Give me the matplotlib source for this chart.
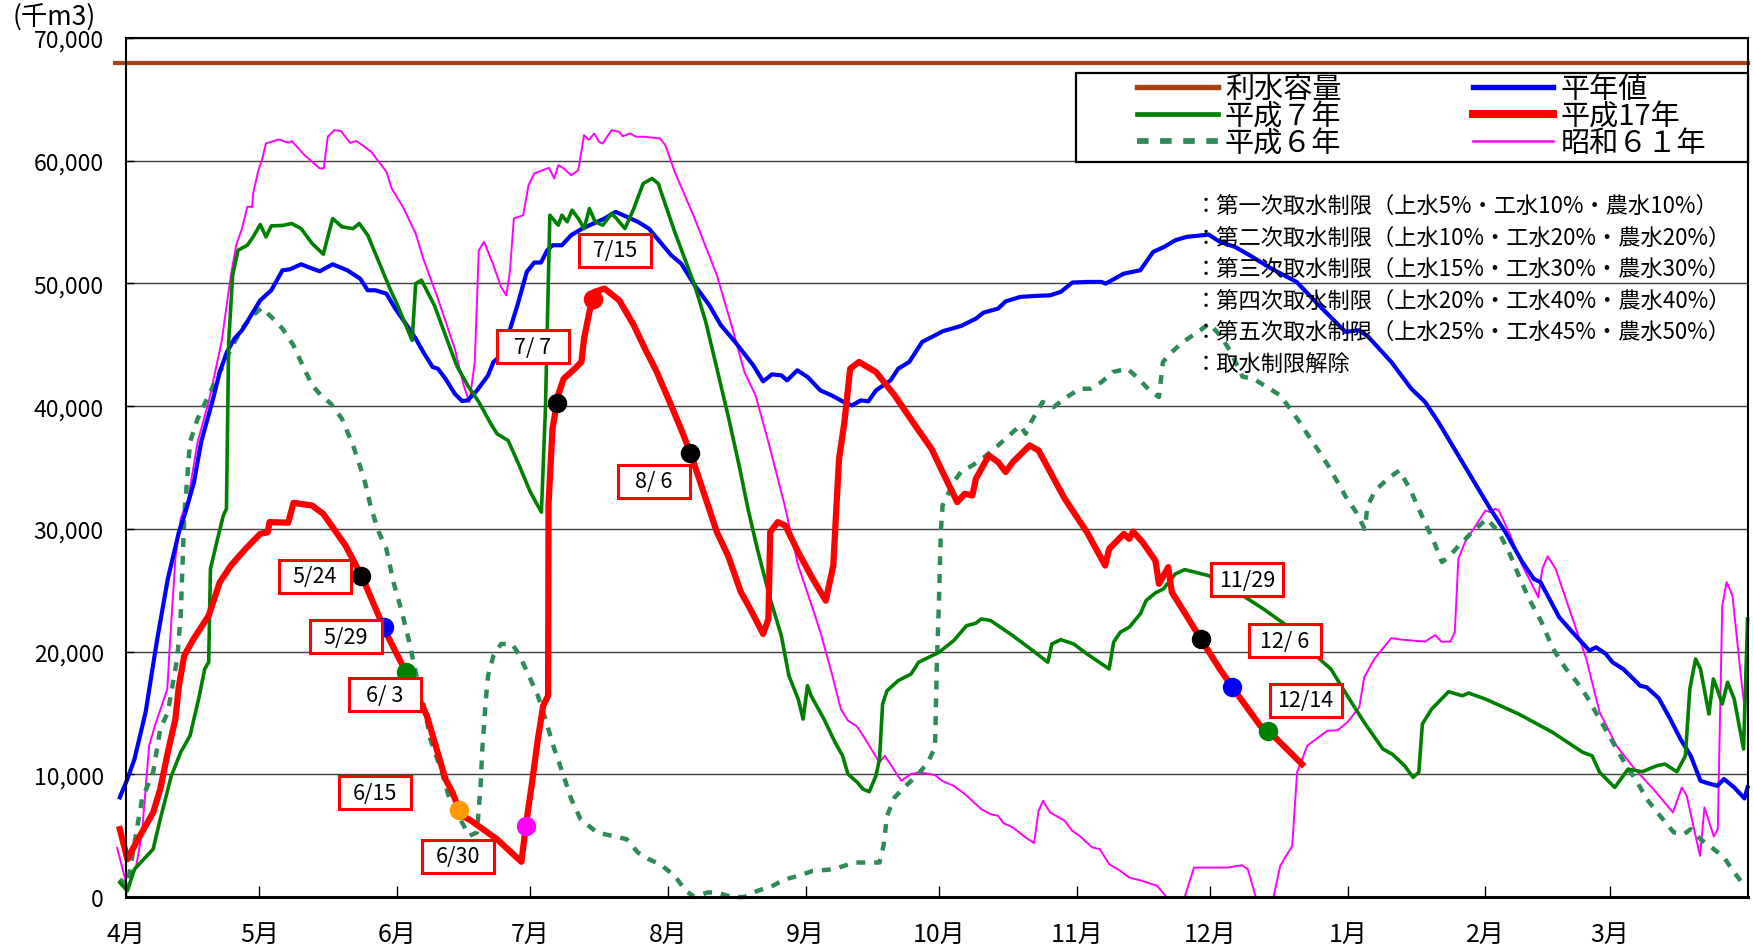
import numpy as np
import matplotlib
matplotlib.use('Agg')
import matplotlib.pyplot as plt
from matplotlib.patches import Rectangle
from matplotlib.transforms import ScaledTranslation

plt.rcParams['font.family'] = ['Noto Sans CJK JP', 'DejaVu Sans']

# ---- data (x = days since 4/1, y = 千m3) ----
month_labels = ['4月', '5月', '6月', '7月', '8月', '9月', '10月', '11月', '12月', '1月', '2月', '3月']
month_start = [0, 30, 61, 91, 122, 153, 183, 214, 244, 275, 306, 334]

capacity = 68000
capacity_span = [-2.5, 365]

heinen = [(-1.4, 8120), (0.3, 9610), (1.9, 11240), (4.4, 15050), (6.9, 20760), (9.4, 25920), (11.9, 29730),
          (13.6, 31630), (15.3, 33810), (16.9, 37070), (19.4, 40340), (21.1, 42780), (22.7, 44410), (24.4, 45500),
          (26.1, 46180), (27.7, 47130), (30.2, 48620), (32.7, 49440), (35.2, 51070), (36.9, 51150), (39.4, 51560),
          (41.5, 51260), (43.6, 50990), (46.5, 51560), (49.8, 51070), (52.7, 50390), (54.4, 49440), (56.1, 49440),
          (58.6, 49170), (60.6, 47950), (62.7, 46860), (65.2, 45500), (66.9, 44410), (69.0, 43190), (70.2, 43050),
          (71.9, 42240), (74.0, 41010), (75.6, 40420), (76.9, 40470), (79.0, 41280), (81.5, 42510), (82.7, 43600),
          (84.4, 44140), (86.0, 45770), (88.1, 48220), (90.2, 50940), (91.9, 51700), (93.4, 51700), (94.8, 52700),
          (96.0, 53110), (98.1, 53110), (100.2, 53930), (102.7, 54470), (105.2, 54880), (107.7, 55290),
          (110.2, 55830), (112.7, 55430), (115.2, 55020), (117.7, 54470), (120.2, 53390), (122.7, 52300),
          (125.0, 51600), (128.0, 49850), (131.3, 48220), (133.9, 46590), (137.1, 45230), (141.2, 43320),
          (143.4, 42020), (145.4, 42590), (147.5, 42510), (148.8, 42100), (151.1, 42920), (153.4, 42380),
          (156.3, 41280), (158.8, 40880), (161.3, 40390), (163.4, 40060), (165.4, 40470), (167.1, 40390),
          (168.8, 41280), (172.1, 42100), (173.8, 43050), (176.3, 43600), (179.2, 45230), (182.1, 45770),
          (183.8, 46100), (188.0, 46540), (191.3, 47130), (193.0, 47620), (196.3, 47950), (198.0, 48540),
          (201.3, 48900), (204.6, 48980), (208.0, 49030), (210.4, 49310), (213.0, 50070), (216.3, 50120),
          (219.6, 50120), (220.5, 49980), (224.6, 50800), (228.3, 51070), (231.2, 52570), (233.7, 52980),
          (236.2, 53520), (238.7, 53790), (243.7, 53980), (246.2, 53390), (249.6, 52980), (252.9, 52300),
          (257.8, 51210), (263.5, 50120), (268.5, 48220), (274.5, 46050), (277.5, 46180), (279.5, 45700),
          (284.8, 43600), (289.3, 41420), (292.4, 40340), (295.4, 38700), (299.9, 35980), (303.7, 33670),
          (307.1, 31630), (310.5, 29730), (314.3, 27290), (316.9, 25920), (318.4, 25650), (322.6, 22800),
          (325.6, 21570), (329.4, 20080), (330.9, 20350), (333.1, 19810), (334.6, 19130), (337.0, 18580),
          (339.3, 17770), (340.8, 17220), (342.3, 17090), (345.0, 16200), (347.6, 14500), (349.9, 12870),
          (352.2, 11510), (354.4, 9470), (356.0, 9280), (358.2, 9060), (359.7, 9610), (362.0, 8930),
          (364.3, 8030), (365.0, 8930)]

h7 = [(-1.4, 1180), (0.3, 500), (1.9, 2270), (6.1, 3900), (7.7, 6350), (10.2, 9880), (12.3, 11790), (14.4, 13140),
      (16.5, 16400), (17.7, 18580), (18.6, 19130), (19.0, 26740), (20.6, 29190), (21.9, 31090), (22.6, 31630),
      (23.1, 45230), (24.0, 50660), (25.2, 52700), (27.3, 53110), (28.6, 53790), (30.2, 54800), (31.5, 53790),
      (32.7, 54690), (35.2, 54720), (37.3, 54880), (39.4, 54470), (41.9, 53250), (44.4, 52380), (46.5, 55290),
      (48.6, 54610), (51.1, 54470), (52.5, 54880), (54.4, 53930), (56.9, 51760), (59.4, 49580), (61.1, 48220),
      (64.4, 45360), (65.2, 49990), (66.5, 50260), (69.4, 48220), (71.9, 45770), (74.4, 43320), (76.9, 41690),
      (79.4, 40340), (81.9, 38700), (83.5, 37750), (86.0, 37200), (88.5, 35170), (91.0, 33000), (93.5, 31360),
      (94.4, 39790), (95.4, 55560), (97.3, 54740), (98.1, 55560), (99.3, 55020), (100.4, 55970), (101.8, 55290),
      (103.1, 54470), (104.3, 56100), (105.6, 55020), (107.3, 54740), (109.3, 55700), (110.4, 55290),
      (112.3, 54470), (114.3, 56100), (116.4, 58140), (118.4, 58550), (119.8, 58140), (123.5, 54200),
      (128.0, 49850), (130.5, 46860), (133.0, 43050), (135.5, 39250), (138.0, 35170), (140.0, 31630),
      (142.1, 28370), (145.0, 24290), (147.5, 21300), (149.2, 18040), (151.3, 16130), (152.4, 14500),
      (153.4, 17220), (154.2, 16400), (157.1, 14500), (159.6, 12600), (161.3, 11510), (162.5, 10020),
      (164.6, 9340), (165.9, 8790), (167.3, 8580), (168.8, 9880), (169.6, 11240), (170.3, 15730), (171.3, 16810),
      (173.8, 17630), (176.7, 18170), (178.4, 19130), (183.0, 19940), (186.3, 20890), (189.2, 22110),
      (191.3, 22310), (192.5, 22660), (194.6, 22530), (199.6, 21300), (204.6, 19940), (207.5, 19130),
      (208.4, 20620), (210.4, 20970), (213.3, 20620), (216.3, 19810), (221.3, 18580), (222.3, 20760),
      (223.8, 21580), (225.8, 21980), (228.3, 23070), (229.6, 24150), (231.7, 24780), (233.5, 25110),
      (236.2, 26330), (238.3, 26680), (243.7, 26190), (247.9, 25380), (256.0, 23480), (261.3, 22110),
      (266.2, 20200), (271.2, 18580), (274.9, 16400), (278.7, 14230), (282.9, 12060), (285.0, 11650),
      (287.8, 10700), (289.7, 9750), (291.0, 10160), (291.8, 14100), (293.9, 15320), (297.7, 16730),
      (300.8, 16400), (302.2, 16620), (306.0, 16130), (313.5, 14910), (321.1, 13420), (327.9, 11790),
      (330.0, 11510), (331.7, 10160), (335.1, 8930), (338.1, 10420), (341.3, 10210), (344.6, 10700),
      (346.4, 10830), (349.1, 10210), (351.0, 11510), (352.0, 16950), (353.3, 19400), (354.4, 18580),
      (356.3, 14910), (357.3, 17770), (358.3, 16810), (359.3, 15730), (360.5, 17500), (362.0, 16130),
      (364.1, 12060), (365.0, 22660)]

h17 = [(-1.4, 5530), (0.3, 3080), (2.7, 4710), (6.1, 6890), (7.7, 8790), (9.4, 11790), (11.1, 14500),
       (11.9, 17220), (13.1, 19670), (15.2, 21030), (18.6, 22930), (21.1, 25650), (23.6, 27010), (26.9, 28370),
       (30.2, 29590), (31.9, 29730), (32.3, 30550), (36.5, 30500), (37.7, 32120), (41.9, 31900), (44.4, 31220),
       (49.4, 28640), (53.1, 26110), (58.4, 21630), (63.4, 18040), (67.7, 14780), (71.9, 9610), (73.5, 8520),
       (75.4, 6700), (77.7, 6210), (83.5, 4710), (89.0, 2870), (90.2, 6350), (91.4, 9340), (92.7, 12870),
       (93.9, 15590), (95.0, 16400), (95.1, 32000), (96.0, 38160), (97.3, 40930), (98.5, 42240), (99.8, 42650),
       (101.0, 43050), (102.5, 43600), (103.1, 45500), (104.3, 47680), (105.4, 49310), (107.7, 49580),
       (111.0, 48630), (114.3, 46590), (116.8, 44680), (119.3, 42920), (122.7, 40060), (125.2, 37890),
       (127.3, 35930), (130.5, 32450), (133.0, 29730), (135.5, 27830), (138.4, 24840), (140.5, 23480),
       (143.4, 21440), (144.6, 22660), (145.0, 29730), (146.7, 30550), (148.4, 30270), (151.3, 28100),
       (154.6, 25920), (157.5, 24150), (159.2, 27010), (160.0, 32450), (160.5, 35710), (161.7, 38700),
       (163.0, 43050), (165.0, 43600), (168.8, 42780), (173.0, 40880), (177.1, 38700), (181.3, 36530),
       (183.8, 34630), (187.1, 32180), (188.8, 32860), (190.5, 32720), (191.3, 34080), (194.2, 35980),
       (196.3, 35440), (198.0, 34630), (199.6, 35440), (203.4, 36800), (205.4, 36390), (211.3, 32450),
       (216.3, 29730), (220.4, 27010), (221.3, 28370), (224.6, 29590), (225.8, 29190), (226.7, 29780),
       (228.8, 28920), (231.7, 27420), (232.5, 25520), (234.6, 26880), (235.4, 24840), (238.7, 22930),
       (242.3, 20810), (246.2, 18580), (249.4, 16900), (255.3, 13960), (257.5, 13420), (264.7, 10830)]

h6 = [(-1.4, 1450), (0.3, 910), (2.3, 5260), (3.6, 7980), (6.1, 10160), (7.7, 13690), (9.4, 15050), (11.5, 19400),
      (12.3, 22930), (12.7, 27010), (13.1, 31000), (14.4, 37070), (16.1, 38970), (18.6, 40880), (21.1, 42780),
      (23.6, 44680), (26.1, 46320), (28.6, 47400), (30.5, 48000), (32.7, 47270), (35.2, 46320), (37.7, 44950),
      (39.4, 43600), (41.9, 41690), (43.9, 40880), (46.1, 40200), (48.6, 38970), (51.1, 36800), (53.6, 34080),
      (55.2, 31630), (56.9, 29730), (58.6, 28370), (60.2, 25650), (61.9, 23480), (63.6, 21030), (65.2, 18310),
      (66.9, 15870), (68.5, 12870), (71.1, 10160), (72.8, 7980), (75.2, 6350), (77.3, 4990), (79.0, 5260),
      (79.8, 9060), (80.2, 12060), (81.0, 16130), (81.5, 18040), (82.7, 19670), (84.4, 20620), (86.9, 20620),
      (88.6, 19670), (91.0, 17770), (92.7, 16400), (94.4, 14500), (96.4, 12060), (98.5, 9880), (100.2, 7980),
      (102.3, 6350), (106.0, 5260), (109.3, 4990), (112.7, 4710), (115.2, 3630), (117.7, 3080), (120.2, 2680),
      (123.5, 1720), (126.0, 500), (128.0, 0), (130.9, 370), (133.0, 370), (136.3, 0), (139.2, 0), (142.1, 500),
      (145.5, 910), (148.4, 1450), (151.3, 1720), (154.6, 2130), (158.0, 2220), (160.5, 2400), (163.8, 2810),
      (169.6, 2810), (170.5, 4170), (171.3, 6620), (173.0, 8120), (175.5, 9060), (178.0, 9880), (180.5, 10970),
      (182.1, 12200), (182.5, 18850), (183.0, 24290), (183.4, 29730), (183.8, 31900), (186.3, 33810),
      (187.9, 34630), (190.5, 35170), (193.2, 35850), (196.3, 36800), (198.8, 37610), (201.3, 38430),
      (202.5, 37750), (203.7, 38700), (206.3, 40340), (208.8, 39930), (211.3, 40610), (214.6, 41420),
      (217.1, 41420), (219.6, 41970), (222.1, 42780), (225.4, 43050), (227.9, 42240), (230.4, 41280),
      (232.5, 40740), (233.4, 43600), (235.4, 44410), (237.9, 45230), (241.3, 46050), (243.8, 46720),
      (246.3, 45770), (248.7, 44410), (251.3, 42400), (253.7, 42240), (256.8, 41560), (259.8, 40880),
      (262.0, 39790), (264.4, 38570), (266.6, 37340), (268.9, 36120), (270.8, 35030), (272.7, 33810),
      (274.6, 32590), (276.9, 31360), (278.8, 30000), (279.5, 31900), (281.2, 33130), (284.0, 34080),
      (286.6, 34760), (289.0, 33260), (290.8, 31770), (292.7, 30270), (294.6, 28780), (296.2, 27290),
      (297.7, 27690), (300.0, 28640), (303.0, 29730), (306.3, 30820), (309.0, 29730), (311.3, 28100),
      (313.5, 26190), (315.8, 24290), (318.5, 22500), (321.1, 20300), (324.1, 18600), (326.4, 17600),
      (328.7, 16400), (331.7, 14500), (334.7, 12600), (337.7, 10700), (340.0, 9470), (342.3, 7980),
      (345.3, 6620), (348.4, 5260), (350.7, 5120), (352.2, 5530), (354.4, 4710), (357.4, 3900), (359.7, 3220),
      (362.0, 2000), (364.3, 910)]

s61 = [(-2.0, 4000), (0.3, 770), (2.3, 2540), (3.6, 5260), (5.2, 12330), (6.5, 13960), (9.3, 16950), (9.8, 20210),
       (11.1, 27550), (12.3, 30820), (14.0, 32450), (16.1, 37070), (18.6, 40340), (21.5, 45230), (23.6, 50660),
       (24.8, 53110), (26.1, 54470), (27.3, 56240), (28.4, 56240), (28.6, 57330), (29.8, 59230), (30.6, 60050),
       (31.5, 61410), (34.4, 61730), (36.5, 61460), (37.3, 61600), (40.2, 60450), (43.6, 59370), (44.5, 59370),
       (45.4, 61950), (46.9, 62490), (48.4, 62420), (50.4, 61460), (51.9, 61600), (55.2, 60730), (58.6, 59100),
       (59.8, 57740), (62.3, 56240), (65.2, 54070), (66.9, 52030), (70.2, 48760), (74.0, 44680), (76.0, 41690),
       (77.3, 40340), (78.5, 43600), (79.4, 52700), (80.6, 53390), (82.7, 51480), (84.4, 49720), (85.6, 49030),
       (86.4, 50940), (87.3, 55290), (89.4, 55560), (90.6, 58010), (91.9, 58960), (95.2, 59420), (96.4, 58550),
       (97.3, 59640), (98.5, 59370), (100.2, 58820), (101.8, 59230), (103.1, 62080), (104.2, 61700),
       (105.4, 62220), (106.5, 61530), (107.3, 61400), (109.3, 62490), (111.0, 62350), (111.8, 61990),
       (113.5, 62220), (114.8, 61950), (116.8, 61950), (120.2, 61810), (121.4, 61260), (123.5, 59100),
       (128.0, 55290), (133.0, 50660), (136.3, 46590), (139.2, 42780), (141.7, 40880), (144.6, 37070),
       (148.2, 32000), (151.3, 27010), (154.6, 23480), (156.3, 21580), (158.8, 18310), (160.9, 15320),
       (162.5, 14370), (164.5, 13910), (166.4, 12870), (169.6, 10970), (170.8, 11510), (174.5, 9470),
       (176.7, 10020), (178.7, 10160), (182.1, 9930), (183.7, 9470), (186.3, 9060), (188.8, 8390), (192.5, 7160),
       (194.6, 6750), (196.3, 6620), (197.5, 6020), (199.6, 5670), (202.5, 4850), (204.4, 4390), (205.4, 7020),
       (206.4, 7840), (208.0, 6890), (211.3, 6210), (213.0, 5390), (214.6, 4990), (217.5, 4040), (219.2, 3900),
       (221.3, 2680), (223.8, 2130), (225.8, 1590), (228.8, 1310), (232.1, 910), (234.2, 0), (238.3, 0),
       (240.4, 2400), (247.9, 2400), (251.2, 2590), (252.5, 2270), (254.3, 0), (258.3, 0), (259.8, 2540),
       (262.5, 4170), (263.6, 10160), (265.9, 12330), (270.4, 13550), (272.7, 13580), (274.9, 14230),
       (277.6, 15460), (278.7, 17900), (281.0, 19400), (284.8, 21090), (287.0, 20980), (292.4, 20810),
       (294.7, 21350), (296.1, 20810), (298.1, 20810), (299.1, 21570), (299.9, 27550), (301.4, 28920),
       (306.0, 31500), (307.1, 31360), (308.2, 31630), (309.0, 31500), (311.3, 29730), (314.3, 27010),
       (316.6, 25380), (317.9, 24430), (318.8, 26740), (320.0, 27770), (321.8, 26740), (324.1, 24290),
       (326.4, 21840), (328.7, 19400), (331.7, 15050), (335.5, 12330), (339.3, 10560), (343.8, 8790),
       (348.2, 6890), (350.2, 8930), (351.3, 8250), (354.3, 3350), (355.3, 7300), (357.4, 4930), (358.3, 5530),
       (359.3, 23750), (360.3, 25650), (361.6, 24560), (363.5, 18000), (364.3, 15500), (365.0, 17500)]

# 取水制限の日付と段階 (0 = 解除)
restrict_dates = ['5/24', '5/29', '6/3', '6/15', '6/30', '7/7', '7/15', '8/6', '11/29', '12/6', '12/14']
restrict_stage = [1, 2, 3, 4, 5, 1, 0, 1, 1, 2, 3]
stage_notes = ['第一次取水制限（上水5%・工水10%・農水10%）',
               '第二次取水制限（上水10%・工水20%・農水20%）',
               '第三次取水制限（上水15%・工水30%・農水30%）',
               '第四次取水制限（上水20%・工水40%・農水40%）',
               '第五次取水制限（上水25%・工水45%・農水50%）',
               '取水制限解除']

# ---- layout / style ----
stage_color = {1: 'black', 2: '#0000FF', 3: '#008000', 4: '#FF9900', 5: '#FF00FF', 0: '#FF0000'}
box_xy = [(42.5, 26130), (49.5, 21220), (58.3, 16480), (56.1, 8480), (74.8, 3310), (91.6, 44850),
          (110.1, 52700), (118.8, 33880), (252.3, 25860), (260.9, 20870), (265.5, 16030)]


def day_of(date):
    m, d = map(int, date.split('/'))
    return month_start[(m - 4) % 12] + d - 1


def xy(pairs):
    a = np.array(pairs, dtype=float)
    return a[:, 0], a[:, 1]


fig = plt.figure(figsize=(17.53, 9.53), dpi=100)
ax = fig.add_axes([0.0719, 0.0577, 0.9250, 0.9014])

h_s61, = ax.plot(*xy(s61), color='#FF00FF', lw=1.4, label='昭和６１年', clip_on=False, zorder=2)
h_h6, = ax.plot(*xy(h6), color='#2E8B57', lw=3.2, ls=(0, (2.0, 2.0)), label='平成６年', clip_on=False, zorder=2.1)
h_avg, = ax.plot(*xy(heinen), color='#0000FF', lw=3, label='平年値', clip_on=False, zorder=2.2)
h_h7, = ax.plot(*xy(h7), color='#008000', lw=2.6, label='平成７年', clip_on=False, zorder=2.3)
h_cap, = ax.plot(capacity_span, [capacity, capacity], color='#A8400F', lw=3, label='利水容量',
                 clip_on=False, zorder=2.4)
rx, ry = xy(h17)
h_h17, = ax.plot(rx, ry, color='#FF0000', lw=4.5, label='平成17年', clip_on=False, zorder=2.5)

# 制限開始日のマーカーと日付ラベル
for date, stage, (bx, by) in zip(restrict_dates, restrict_stage, box_xy):
    d = day_of(date)
    ax.plot(d, np.interp(d, rx, ry), 'o', ms=13, color=stage_color[stage], zorder=6)
    m, dd = date.split('/')
    txt = m + '/' + (dd if len(dd) == 2 else ' ' + dd)
    tr = fig.dpi_scale_trans + ScaledTranslation(bx, by, ax.transData)
    ax.add_artist(Rectangle((-0.36, -0.165), 0.72, 0.33, transform=tr, fc='white', ec='#FF0000',
                            lw=2.2, zorder=7, clip_on=False))
    ax.text(bx, by, txt, ha='center', va='center', fontsize=15.5, zorder=8)

ax.set_xlim(0, 365)
ax.set_ylim(0, 70000)
ax.set_xticks(month_start)
ax.set_xticklabels(month_labels)
ax.set_yticks(range(0, 70001, 10000))
ax.set_yticklabels(['{:,}'.format(v) for v in range(0, 70001, 10000)])
ax.tick_params(axis='x', direction='in', length=8, width=1, pad=17, labelsize=18)
ax.tick_params(axis='y', direction='in', length=6, width=1, pad=16, labelsize=16.5)
ax.yaxis.grid(True, color='#404040', lw=1)
ax.set_axisbelow(True)
for s in ax.spines.values():
    s.set_linewidth(1.5)
ax.spines['bottom'].set_linewidth(2.2)

fig.text(0.007, 0.996, '(千m3)', fontsize=19, ha='left', va='top')

# legend: frame drawn separately, entries placed inside
ax.add_artist(Rectangle((0.5856, 0.8557), 0.4144, 0.1038, transform=ax.transAxes, fc='white', ec='black',
                        lw=1.6, zorder=5, clip_on=False))
leg = ax.legend(handles=[h_cap, h_h7, h_h6, h_avg, h_h17, h_s61], ncol=2, loc='upper left',
                bbox_to_anchor=(0.6235, 0.958), frameon=False, fontsize=21, handlelength=2.77,
                handletextpad=0.24, columnspacing=4.5, labelspacing=-0.1, borderpad=0, borderaxespad=0)
leg.set_zorder(6)
for lh in leg.legend_handles:
    lh.set_linewidth(lh.get_linewidth() * 1.3)

note_y = [0.805, 0.768, 0.732, 0.695, 0.659, 0.621]
for note, y in zip(stage_notes, note_y):
    ax.text(0.659, y, '：' + note, transform=ax.transAxes, fontsize=16, ha='left', va='center', zorder=3)

fig.savefig('out.png', dpi=100)
